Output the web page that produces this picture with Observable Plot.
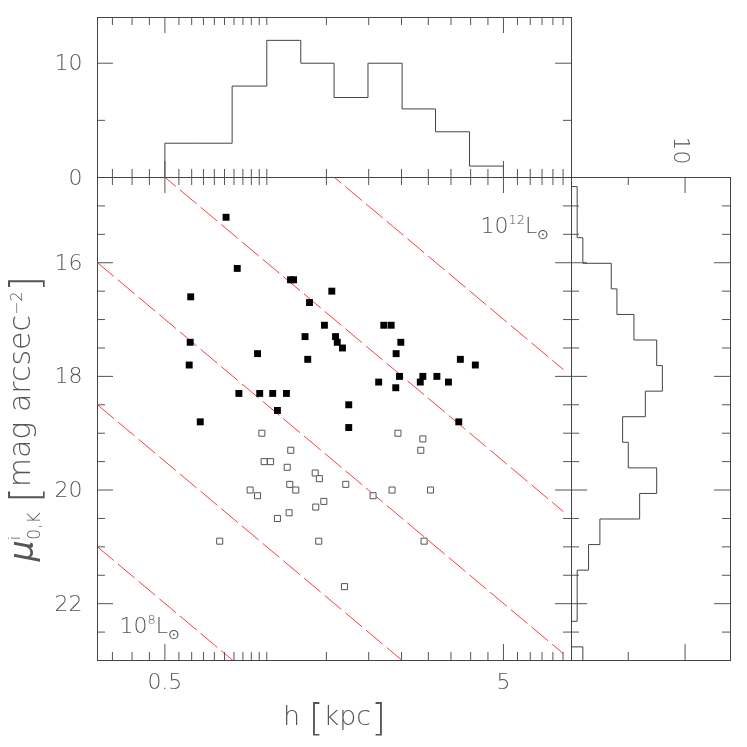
<!DOCTYPE html>
<html><head><meta charset="utf-8">
<script src="https://cdn.jsdelivr.net/npm/d3@7"></script>
<script src="https://cdn.jsdelivr.net/npm/@observablehq/plot@0.6"></script>
<style>
body{margin:0;background:#fff;}
#chart{position:relative;width:747px;height:747px;}
#chart svg{position:absolute;left:0;top:0;will-change:transform;}
</style></head><body><div id="chart"></div>
<script>
// ---------- data ----------
const filledH  = [0.758,0.818,1.175,1.20,1.556,0.596,1.337,1.48,1.297,1.596,1.615,1.673,0.594,0.939,1.321,0.590,0.827,0.953,1.041,1.143,1.075,0.636,2.216,2.33,2.488,2.41,2.14,2.466,2.404,2.84,2.89,3.18,3.44,3.73,4.13,1.746,1.746,3.69];
const filledMu = [15.2,16.1,16.3,16.3,16.5,16.6,16.7,17.1,17.3,17.3,17.4,17.5,17.4,17.6,17.7,17.8,18.3,18.3,18.3,18.3,18.6,18.8,17.1,17.1,17.4,17.6,18.1,18.0,18.2,18.1,18.0,18.0,18.1,17.7,17.8,18.5,18.9,18.8];
const openH  = [2.44,2.89,2.85,1.711,2.06,2.344,3.045,2.915,1.696,0.967,1.177,0.982,1.026,1.149,1.39,1.43,1.169,1.218,0.893,0.939,1.474,1.395,1.164,1.075,0.726,1.424];
const openMu = [19.0,19.1,19.3,19.9,20.1,20.0,20.0,20.9,21.7,19.0,19.3,19.5,19.5,19.6,19.7,19.8,19.9,20.0,20.0,20.1,20.2,20.3,20.4,20.5,20.9,20.9];

// top histogram of h (bin edges in kpc, counts)
const hEdges  = [0.5,0.63,0.79,1.0,1.26,1.58,1.99,2.51,3.15,3.97,5.0];
const hCounts = [3,3,8,12,10,7,10,6,4,1];

// right histogram of mu (bin edges in mag, values)
const muEdges  = [14.66,15.11,15.56,16.01,16.46,16.91,17.36,17.81,18.26,18.71,19.16,19.61,20.06,20.51,20.96,21.41,21.86,22.31,22.76,23.21];
const muCounts = [0.5,0.5,1,3.5,4,5.5,7.5,8,6.5,4.5,5,7.5,6,2.5,1.5,0.5,0.5,0,1];

// constant-luminosity lines: mu at h = 1 kpc, drawn over this h range
const lumMu0 = [13.5,16.0,18.5,21.0,23.5];
const lumH   = [0.3162,7.5];

// ticks
const xMinorTicks = [0.35,0.4,0.45,0.55,0.6,0.65,0.7,0.75,0.8,0.85,0.9,0.95,1,1.5,2,2.5,3,3.5,4,4.5,5.5,6,6.5,7,7.5];
const xMajorTicks = [0.5,5];
const xTickLabels = ["0.5","5"];
const yMinorTicks = [15,15.5,16.5,17,17.5,18.5,19,19.5,20.5,21,21.5,22.5];
const yMajorTicks = [16,18,20,22];
const yTickLabels = ["16","18","20","22"];
const nMinorTicks = [5];
const nMajorTicks = [10];
const nLabelVals = [0,10];
const nLabels = ["0","10"];

const xLabel = "h [kpc]";
const yLabel = "μi0,K [mag arcsec−2]";
const lumHi = "1012L⊙";
const lumLo = "108L⊙";

// ---------- styling ----------
const FONT = "'DejaVu Sans', 'Liberation Sans', sans-serif";
const INK = "#444";
const TXT = "#555";
const TICK = "#555";
const W = 747, H = 747;
const xDomain = [0.3162, 7.943];
const muDomain = [14.5, 23];
const nDomain = [0, 14];
const baseStyle = {background:"transparent", fontFamily: FONT, fontWeight: 200, color: INK, overflow: "visible"};

function edgeTicks(side, vals, len, fw, fh) {
  const o = {stroke: TICK, strokeWidth: 1};
  if (side === "bottom") return Plot.tickX(vals, {x: d => d, insetTop: fh - len, ...o});
  if (side === "top") return Plot.tickX(vals, {x: d => d, insetBottom: fh - len, ...o});
  if (side === "left") return Plot.tickY(vals, {y: d => d, insetRight: fw - len, ...o});
  return Plot.tickY(vals, {y: d => d, insetLeft: fw - len, ...o});
}
function allTicksX(fw, fh) {
  return ["bottom","top"].flatMap(s => [edgeTicks(s, xMinorTicks, 8, fw, fh), edgeTicks(s, xMajorTicks, 16, fw, fh)]);
}
function allTicksY(fw, fh, minor, major) {
  return ["left","right"].flatMap(s => [edgeTicks(s, minor, 8, fw, fh), edgeTicks(s, major, 16, fw, fh)]);
}

// ---------- main panel ----------
const mFW = 474, mFH = 483;
const lumLines = lumMu0.flatMap((m0, k) => lumH.map(h => ({h, mu: m0 + 5 * Math.log10(h), k})));
const filled = filledH.map((h, i) => ({h, mu: filledMu[i]}));
const open = openH.map((h, i) => ({h, mu: openMu[i]}));

const main = Plot.plot({
  width: W, height: H,
  marginLeft: 97, marginRight: 176, marginTop: 177, marginBottom: 87,
  style: baseStyle,
  x: {type: "log", domain: xDomain, axis: null},
  y: {domain: muDomain, reverse: true, axis: null},
  marks: [
    Plot.line(lumLines, {x: "h", y: "mu", z: "k", stroke: "#ff3b3b", strokeWidth: 1, strokeDasharray: "21,6", clip: true}),
    Plot.dot(open, {x: "h", y: "mu", symbol: "square", r: 3.4, stroke: "#555", strokeWidth: 1, fill: "white"}),
    Plot.dot(filled, {x: "h", y: "mu", symbol: "square", r: 3.9, fill: "black", stroke: "none"}),
    Plot.frame({stroke: INK}),
    ...allTicksX(mFW, mFH),
    ...allTicksY(mFW, mFH, yMinorTicks, yMajorTicks),
    Plot.text(xMajorTicks, {x: d => d, text: xTickLabels, frameAnchor: "bottom", dy: 28, fontSize: 22, fill: TXT}),
    Plot.text(yMajorTicks, {y: d => d, text: yTickLabels, frameAnchor: "left", dx: -15, textAnchor: "end", fontSize: 22, fill: TXT}),
    Plot.text([xLabel], {text: d => d, frameAnchor: "bottom", dy: 64, fontSize: 27, fill: TXT}),
    Plot.text([yLabel], {text: d => d, frameAnchor: "left", dx: -77, rotate: -90, fontSize: 30, fill: TXT}),
    Plot.text([lumHi], {text: d => d, frameAnchor: "top-right", dx: -91, dy: 40, textAnchor: "start", fontSize: 22, fill: TXT}),
    Plot.text([lumLo], {text: d => d, frameAnchor: "bottom-left", dx: 22, dy: -28, textAnchor: "start", fontSize: 22, fill: TXT})
  ]
});

// ---------- top histogram ----------
const tFW = 474, tFH = 160;
const topStep = [{h: hEdges[0], n: 0}, ...hCounts.map((n, i) => ({h: hEdges[i], n})), {h: hEdges[hEdges.length - 1], n: 0}];
const topHist = Plot.plot({
  width: W, height: H,
  marginLeft: 97, marginRight: 176, marginTop: 17, marginBottom: 570,
  style: baseStyle,
  x: {type: "log", domain: xDomain, axis: null},
  y: {domain: nDomain, axis: null},
  marks: [
    Plot.line(topStep, {x: "h", y: "n", curve: "step-after", stroke: INK, strokeWidth: 1}),
    Plot.frame({stroke: INK}),
    ...allTicksX(tFW, tFH),
    ...allTicksY(tFW, tFH, nMinorTicks, nMajorTicks),
    Plot.text(nLabelVals, {y: d => d, text: nLabels, frameAnchor: "left", dx: -15, textAnchor: "end", fontSize: 22, fill: TXT})
  ]
});

// ---------- right histogram ----------
const rFW = 159, rFH = 483;
const rightStep = muEdges.map((e, i) => ({mu: e, n: i === 0 ? 0 : muCounts[i - 1]}));
const rightHist = Plot.plot({
  width: W, height: H,
  marginLeft: 571, marginRight: 17, marginTop: 177, marginBottom: 87,
  style: baseStyle,
  x: {domain: nDomain, axis: null},
  y: {domain: muDomain, reverse: true, axis: null},
  marks: [
    Plot.line(rightStep, {x: "n", y: "mu", curve: "step-after", stroke: INK, strokeWidth: 1, clip: true}),
    Plot.frame({stroke: INK}),
    edgeTicks("top", nMinorTicks, 8, rFW, rFH), edgeTicks("top", nMajorTicks, 16, rFW, rFH),
    edgeTicks("bottom", nMinorTicks, 8, rFW, rFH), edgeTicks("bottom", nMajorTicks, 16, rFW, rFH),
    ...allTicksY(rFW, rFH, yMinorTicks, yMajorTicks),
    Plot.text(nMajorTicks, {x: d => d, text: ["10"], frameAnchor: "top", dx: 5, dy: -27, rotate: 90, fontSize: 22, fill: TXT})
  ]
});

const chart = document.getElementById("chart");
chart.append(topHist, rightHist, main);

// ---------- rich text (super/subscripts) ----------
function rich(root, plain, parts, center) {
  d3.select(root).selectAll("text").filter(function () { return this.textContent === plain; }).each(function () {
    const t = d3.select(this);
    t.text(null);
    for (const p of parts) {
      const s = t.append("tspan").text(p.t);
      if (p.size) s.attr("font-size", p.size);
      if (p.dy) s.attr("dy", p.dy);
      if (p.dx) s.attr("dx", p.dx);
      if (p.italic) s.attr("font-style", "italic");
    }
    if (center) {
      t.attr("text-anchor", "start").attr("x", 0);
      const bb = this.getBBox();
      t.attr("x", -(bb.x + bb.width / 2));
    }
  });
}
rich(main, yLabel, [
  {t: "μ", size: 33, italic: true, dy: 3},
  {t: "i", size: 16, dy: -13},
  {t: "0,K", size: 17, dx: -4, dy: 20},
  {t: " ", size: 30, dy: -10},
  {t: "[", size: 40, dy: 9},
  {t: "mag arcsec", size: 30, dy: -9},
  {t: "−2", size: 16, dy: -8},
  {t: "]", size: 40, dy: 17}
], true);
rich(main, xLabel, [
  {t: "h ", size: 27},
  {t: "[", size: 38, dy: 5},
  {t: "kpc", size: 27, dy: -5},
  {t: "]", size: 38, dy: 5}
], true);
rich(main, lumHi, [
  {t: "10", size: 22},
  {t: "12", size: 13, dy: -9},
  {t: "L", size: 22, dy: 9},
  {t: "⊙", size: 14, dy: 6}
], false);
rich(main, lumLo, [
  {t: "10", size: 22},
  {t: "8", size: 13, dy: -9},
  {t: "L", size: 22, dy: 9},
  {t: "⊙", size: 14, dy: 6}
], false);
</script></body></html>
